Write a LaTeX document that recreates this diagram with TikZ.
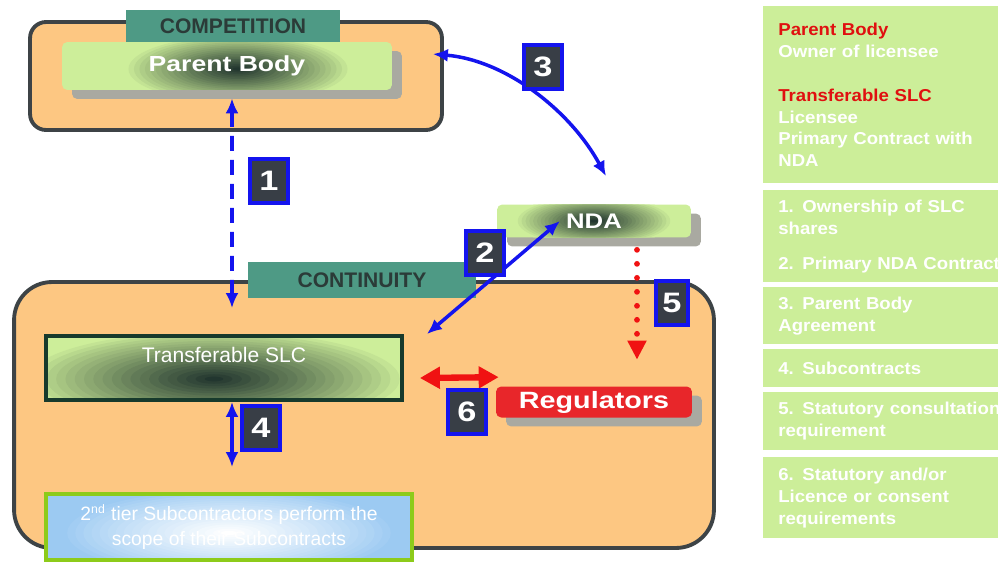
\documentclass[tikz,border=0pt]{standalone}
\usepackage{fontspec}
\setmainfont{Liberation Sans}
\newfontfamily\widesf{Liberation Sans}[FakeStretch=1.22]
\newfontfamily\keysf{Liberation Sans}[FakeStretch=1.08]
\usetikzlibrary{positioning, arrows.meta, shadows}

\definecolor{peach}{HTML}{FDC782}
\definecolor{framegray}{HTML}{3D4346}
\definecolor{tabteal}{HTML}{4E9A85}
\definecolor{tabtext}{HTML}{2B3B38}
\definecolor{boxgreen}{HTML}{CDEE9A}
\definecolor{glowdark}{HTML}{22362F}
\definecolor{shadowgray}{HTML}{A9A9A1}
\definecolor{slcborder}{HTML}{173A2C}
\definecolor{subborder}{HTML}{8DCB1A}
\definecolor{subblue}{HTML}{9CCAF2}
\definecolor{regred}{HTML}{E8262A}
\definecolor{linkred}{HTML}{F01212}
\definecolor{linkblue}{HTML}{1414EE}
\definecolor{numdark}{HTML}{383E46}
\definecolor{keygreen}{HTML}{CCEE99}
\definecolor{keyred}{HTML}{E01010}

% stepped elliptic glow: inner colour, outer colour, x radius, y radius, shift
\newcommand{\glowfill}[5]{%
  \foreach \k [evaluate=\k as \p using {int(100*(\k/20)^0.9)}] in {0,...,20}
    \fill[#1!\p!#2] ([#5]path picture bounding box.center) ellipse ({(1-\k/21)*#3cm} and {(1-\k/21)*#4cm});}

\begin{document}
\begin{tikzpicture}[x=0.02cm, y=-0.02cm]
        \tikzstyle{frame} = [rectangle, draw=framegray, line width=2.2pt, fill=peach, inner sep=0pt]
        \tikzstyle{tab} = [rectangle, fill=tabteal, text=tabtext, inner sep=0pt, font=\bfseries\fontsize{12}{14}\selectfont]
        \tikzstyle{glowbox} = [rectangle, rounded corners=3pt, fill=boxgreen, text=white, inner sep=0pt, drop shadow={shadow xshift=0.2cm, shadow yshift=-0.18cm, fill=shadowgray, opacity=1}]
        \tikzstyle{numbox} = [rectangle, fill=numdark, draw=linkblue, line width=2.2pt, minimum width=0.76cm, minimum height=0.88cm, text=white, font=\widesf\bfseries\fontsize{16}{18}\selectfont]
        \tikzstyle{arrow} = [line width=2pt, draw=linkblue, <->, >={Latex[length=0.3cm, width=0.26cm]}]
        \tikzstyle{redarrow} = [line width=3.6pt, draw=linkred, <->, >={Triangle[length=0.4cm, width=0.42cm]}]
        \tikzstyle{dotarrow} = [line width=3.3pt, draw=linkred, line cap=round, dash pattern=on 0pt off 0.28cm, -{Triangle[length=0.38cm, width=0.36cm, fill=linkred]}]
        \tikzstyle{keybox} = [rectangle, fill=keygreen, anchor=north west, text width=4.6cm, inner xsep=0.3cm, align=left, text=white, font=\keysf\bfseries\fontsize{9.8}{12.5}\selectfont]

        \useasboundingbox (0,0) rectangle (998,568);

        \node (cont) [frame, rounded corners=0.76cm, minimum width=14.0cm, minimum height=5.32cm] at (364,415) {};
        \node (conttab) [tab, minimum width=4.58cm, minimum height=0.74cm] at (362,280) {CONTINUITY};
        \node (comp) [frame, rounded corners=0.32cm, minimum width=8.24cm, minimum height=2.16cm] at (236,76) {};
        \node (comptab) [tab, minimum width=4.28cm, minimum height=0.64cm] at (233,26) {COMPETITION};

        \node (parent) [glowbox, minimum width=6.6cm, minimum height=0.96cm, font=\widesf\bfseries\fontsize{12.4}{14}\selectfont,
            path picture={\glowfill{glowdark}{boxgreen}{2.3}{0.7}{xshift=0.22cm, yshift=-0.06cm}}] at (227,66) {Parent Body};
        \node (nda) [glowbox, minimum width=3.88cm, minimum height=0.66cm, font=\widesf\bfseries\fontsize{12}{14}\selectfont,
            path picture={\glowfill{glowdark}{boxgreen}{1.6}{0.5}{xshift=0cm}}] at (594,221) {NDA};
        \node (slc) [rectangle, draw=slcborder, line width=2.2pt, fill=boxgreen, minimum width=7.12cm, minimum height=1.28cm,
            path picture={\glowfill{glowdark}{boxgreen}{3.9}{1.0}{xshift=-0.2cm, yshift=-0.22cm}},
            label={[text=white, font=\fontsize{12}{14}\selectfont, yshift=0.26cm]center:Transferable SLC}] at (224,368) {};
        \node (sub) [rectangle, draw=subborder, line width=2.2pt, fill=subblue, minimum width=7.32cm, minimum height=1.32cm, text=white, align=center, font=\fontsize{11}{14}\selectfont,
            path picture={\glowfill{white}{subblue}{3.4}{0.9}{yshift=-0.12cm}}] at (229,527) {2\textsuperscript{\scriptsize nd} tier Subcontractors perform the\\scope of their Subcontracts};
        \node (reg) [glowbox, fill=regred, minimum width=3.92cm, minimum height=0.62cm, font=\widesf\bfseries\fontsize{13.4}{15}\selectfont] at (594,402) {Regulators};

        \draw [arrow, dash pattern=on 0.3cm off 0.18cm] ([xshift=0.1cm, yshift=-0.16cm]parent.south) -- ([xshift=0.16cm, yshift=0.52cm]slc.north);
        \draw [arrow] ([xshift=-0.22cm, yshift=-0.68cm]comp.north east) .. controls (505,60) and (570,110) .. ([xshift=0.24cm, yshift=0.56cm]nda.north);
        \draw [arrow] ([xshift=-0.68cm]nda.center) -- ([xshift=0.46cm]slc.north east);
        \draw [arrow] ([xshift=0.16cm]slc.south) -- ([xshift=0.06cm, yshift=0.5cm]sub.north);
        \draw [dotarrow] ([xshift=0.86cm, yshift=-0.24cm]nda.south) -- ([xshift=0.86cm, yshift=0.53cm]reg.north);
        \draw [redarrow] ([xshift=0.32cm, yshift=-0.2cm]slc.east) -- ([xshift=0.06cm, yshift=0.18cm]reg.north west);

        \node (n1) [numbox] at (269,181) {1};
        \node (n3) [numbox] at (543,67) {3};
        \node (n2) [numbox] at (485,253) {2};
        \node (n5) [numbox, minimum width=0.64cm] at (672,303) {5};
        \node (n6) [numbox] at (467,412) {6};
        \node (n4) [numbox] at (261,428) {4};

        \node (keyroles) [keybox, minimum height=3.54cm] at (763,6) {\textcolor{keyred}{Parent Body}\\Owner of licensee\\[12.5pt]\textcolor{keyred}{Transferable SLC}\\Licensee\\Primary Contract with\\NDA};
        \node (keyshares) [keybox, minimum height=1.84cm] at (763,190) {1. Ownership of SLC\\shares\\[0.26cm]2. Primary NDA Contract};
        \node (keypba) [keybox, minimum height=1.14cm] at (763,287) {3. Parent Body\\Agreement};
        \node (keysub) [keybox, minimum height=0.76cm] at (763,349) {4. Subcontracts};
        \node (keystat) [keybox, minimum height=1.16cm] at (763,392) {5. Statutory consultation\\requirement};
        \node (keylic) [keybox, minimum height=1.62cm] at (763,457) {6. Statutory and/or\\Licence or consent\\requirements};
\end{tikzpicture}
\end{document}
